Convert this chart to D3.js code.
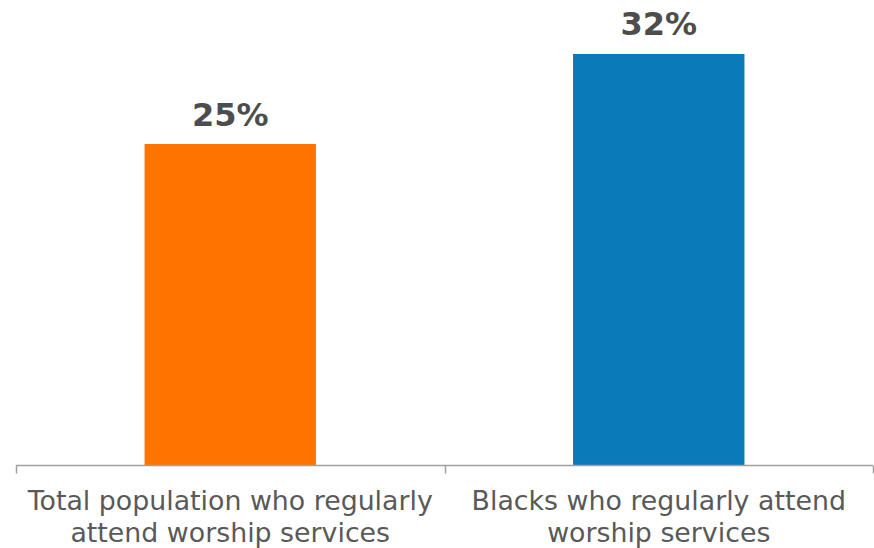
<!DOCTYPE html>
<html>
<head>
<meta charset="utf-8">
<script src="https://cdn.jsdelivr.net/npm/d3@7"></script>
<style>
  html, body { margin: 0; padding: 0; background: #fff; }
  svg { display: block; }
</style>
</head>
<body>
<svg id="chart" width="874" height="548"></svg>
<script>
// Categories (each label split into its two display lines)
const categories = ["Total population", "Blacks"];
const categoryLines = [
  ["Total population who regularly", "attend worship services"],
  ["Blacks who regularly attend", "worship services"]
];
const values = [25, 32];
const valueLabels = ["25%", "32%"];
const barColors = ["#ff7300", "#0a7ab8"];

const width = 874, height = 548;
const margin = { left: 16, right: 1, baseline: 465.5 };
const pxPerPoint = 12.86;

const svg = d3.select("#chart");

const x = d3.scaleBand()
  .domain(categories)
  .range([margin.left, width - margin.right])
  .paddingInner(0)
  .paddingOuter(0);

const y = d3.scaleLinear()
  .domain([0, 100])
  .range([margin.baseline, margin.baseline - 100 * pxPerPoint]);

const barW = x.bandwidth() * 0.4;

// Bars
svg.selectAll("rect.bar")
  .data(values)
  .join("rect")
  .attr("class", "bar")
  .attr("x", (d, i) => x(categories[i]) + (x.bandwidth() - barW) / 2)
  .attr("y", d => y(d))
  .attr("width", barW)
  .attr("height", d => y(0) - y(d))
  .attr("fill", (d, i) => barColors[i]);

// Value labels
svg.selectAll("text.value")
  .data(values)
  .join("text")
  .attr("class", "value")
  .attr("x", (d, i) => x(categories[i]) + x.bandwidth() / 2)
  .attr("y", d => y(d) - 18.5)
  .attr("text-anchor", "middle")
  .attr("font-family", "'DejaVu Sans', Verdana, sans-serif")
  .attr("font-weight", "bold")
  .attr("font-size", 32)
  .attr("fill", "#4d4d4d")
  .text((d, i) => valueLabels[i]);

// Category axis: baseline with tick marks at band boundaries
const boundaries = categories.map(c => x(c)).concat([x(categories[categories.length - 1]) + x.bandwidth()]);
svg.append("line")
  .attr("x1", margin.left).attr("x2", width - margin.right)
  .attr("y1", margin.baseline).attr("y2", margin.baseline)
  .attr("stroke", "#a0a0a0").attr("stroke-width", 1.5);
svg.selectAll("line.tick")
  .data(boundaries)
  .join("line")
  .attr("class", "tick")
  .attr("x1", d => Math.round(d) + 0.5).attr("x2", d => Math.round(d) + 0.5)
  .attr("y1", margin.baseline).attr("y2", margin.baseline + 8)
  .attr("stroke", "#a0a0a0").attr("stroke-width", 1.5);

// Category labels
const labels = svg.selectAll("text.cat")
  .data(categoryLines)
  .join("text")
  .attr("class", "cat")
  .attr("text-anchor", "middle")
  .attr("font-family", "'DejaVu Sans', Verdana, sans-serif")
  .attr("font-size", 26.8)
  .attr("fill", "#595959")
  .attr("transform", (d, i) => `translate(${x(categories[i]) + x.bandwidth() / 2},510)`);
labels.selectAll("tspan")
  .data(d => d)
  .join("tspan")
  .attr("x", 0)
  .attr("dy", (d, j) => j === 0 ? 0 : 32)
  .text(d => d);
</script>
</body>
</html>
